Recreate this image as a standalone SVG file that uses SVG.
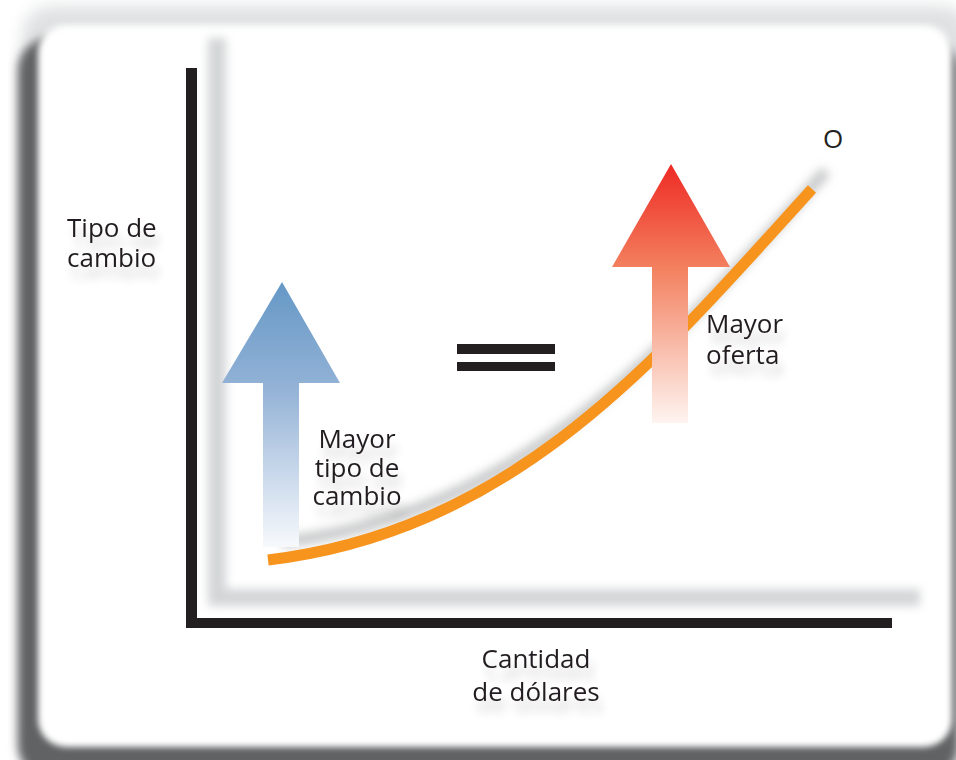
<svg xmlns="http://www.w3.org/2000/svg" width="956" height="760" viewBox="0 0 956 760">
<style>
  .t { font-family: "Open Sans", "Noto Sans", "Liberation Sans", sans-serif; font-size: 26px; fill: #231F20; }
  .ink { fill: #231F20; }
</style>
<defs>
  <filter id="b8" x="-20%" y="-20%" width="140%" height="140%"><feGaussianBlur stdDeviation="8"/></filter>
  <filter id="b5" x="-20%" y="-20%" width="140%" height="140%"><feGaussianBlur stdDeviation="5"/></filter>
  <filter id="b3" x="-5%" y="-5%" width="110%" height="110%"><feGaussianBlur stdDeviation="3"/></filter>
  <filter id="ts" x="-20%" y="-20%" width="140%" height="160%">
    <feGaussianBlur in="SourceAlpha" stdDeviation="5"/>
    <feOffset dx="4" dy="12" result="o"/>
    <feComponentTransfer in="o" result="s"><feFuncA type="linear" slope="0.18"/></feComponentTransfer>
    <feMerge><feMergeNode in="s"/><feMergeNode in="SourceGraphic"/></feMerge>
  </filter>
  <linearGradient id="gBlue" gradientUnits="userSpaceOnUse" x1="0" y1="282" x2="0" y2="547">
    <stop offset="0" stop-color="#6598C6"/>
    <stop offset="0.4" stop-color="#93B2D6"/>
    <stop offset="1" stop-color="#F7F9FC"/>
  </linearGradient>
  <linearGradient id="gRed" gradientUnits="userSpaceOnUse" x1="0" y1="164" x2="0" y2="423">
    <stop offset="0" stop-color="#EE2A24"/>
    <stop offset="0.4" stop-color="#F3805F"/>
    <stop offset="1" stop-color="#FEF4F0"/>
  </linearGradient>
</defs>

<g id="card">
  <rect x="0" y="0" width="956" height="760" fill="#ffffff"/>
  <rect x="22" y="6" width="950" height="760" rx="30" fill="#DFE1E2" filter="url(#b8)"/>
  <rect x="18" y="38" width="940" height="740" rx="32" fill="#616264" filter="url(#b5)"/>
  <rect x="38" y="25" width="914" height="722" rx="28" fill="#ffffff" filter="url(#b3)"/>
</g>

<g id="axis-shadows" fill="#D3D5D7" filter="url(#b5)">
  <rect x="208" y="38" width="18" height="565"/>
  <rect x="208" y="589" width="712" height="17"/>
</g>

<g id="axes" class="ink">
  <rect x="186" y="68" width="11" height="560"/>
  <rect x="186" y="618" width="706" height="10"/>
</g>

<g id="connectors">
  <path d="M268,560 C518,530 662,354 812,189" fill="none" stroke="#8A8C8E" stroke-opacity="0.45" stroke-width="12" transform="translate(14,-18)" filter="url(#b5)"/>
  <path id="supply-curve" d="M268,560 C518,530 662,354 812,189" fill="none" stroke="#F7941D" stroke-width="11"/>
</g>

<g id="arrow-blue">
  <path d="M282,282 L340,383 L299,383 L299,547 L263,547 L263,383 L222,383 Z" fill="url(#gBlue)"/>
</g>

<g id="arrow-red">
  <path d="M671,164 L730,267 L688,267 L688,423 L652,423 L652,267 L612,267 Z" fill="url(#gRed)"/>
</g>

<g id="equals" class="ink">
  <rect x="457" y="344" width="98" height="10"/>
  <rect x="457" y="362" width="98" height="9"/>
</g>

<g id="label-y" filter="url(#ts)">
  <text class="t" x="67" y="237">Tipo de</text>
  <text class="t" x="67" y="267">cambio</text>
</g>

<g id="label-blue" filter="url(#ts)">
  <text class="t" x="357" y="448" text-anchor="middle">Mayor</text>
  <text class="t" x="357" y="477" text-anchor="middle">tipo de</text>
  <text class="t" x="357" y="505" text-anchor="middle">cambio</text>
</g>

<g id="label-red" filter="url(#ts)">
  <text class="t" x="706" y="333">Mayor</text>
  <text class="t" x="706" y="364">oferta</text>
</g>

<g id="label-x" filter="url(#ts)">
  <text class="t" x="536" y="668" text-anchor="middle">Cantidad</text>
  <text class="t" x="536" y="701" text-anchor="middle">de dólares</text>
</g>

<g id="label-o">
  <text class="t" x="833" y="148" text-anchor="middle">O</text>
</g>
</svg>
